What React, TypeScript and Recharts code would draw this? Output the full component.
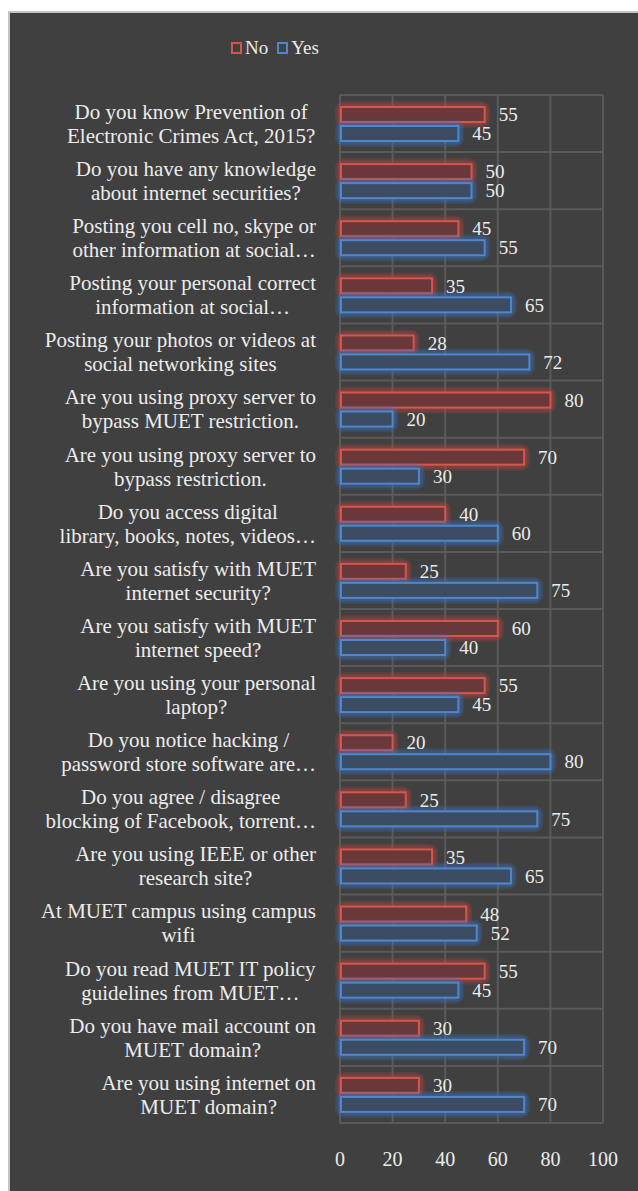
import { BarChart, Bar, XAxis, YAxis, CartesianGrid, Legend, LabelList } from "recharts";

const questions = [
  "Do you know Prevention of\nElectronic Crimes Act, 2015?",
  "Do you have any knowledge\nabout internet securities?",
  "Posting you cell no, skype or\nother information at social…",
  "Posting your personal correct\ninformation at social…",
  "Posting your photos or videos at\nsocial networking sites",
  "Are you using proxy server to\nbypass MUET restriction.",
  "Are you using proxy server to\nbypass restriction.",
  "Do you access digital\nlibrary, books, notes, videos…",
  "Are you satisfy with MUET\ninternet security?",
  "Are you satisfy with MUET\ninternet speed?",
  "Are you using your personal\nlaptop?",
  "Do you notice hacking /\npassword store software are…",
  "Do you agree / disagree\nblocking of Facebook, torrent…",
  "Are you using IEEE or other\nresearch site?",
  "At MUET campus using campus\nwifi",
  "Do you read MUET IT policy\nguidelines from MUET…",
  "Do you have mail account on\nMUET domain?",
  "Are you using internet on\nMUET domain?",
];
const noValues = [55, 50, 45, 35, 28, 80, 70, 40, 25, 60, 55, 20, 25, 35, 48, 55, 30, 30];
const yesValues = [45, 50, 55, 65, 72, 20, 30, 60, 75, 40, 45, 80, 75, 65, 52, 45, 70, 70];
const xTicks = [0, 20, 40, 60, 80, 100];

const data = questions.map((q, i) => ({ q, No: noValues[i], Yes: yesValues[i] }));

const FONT = "Liberation Serif, Times New Roman, serif";
const RED = "#d4564f";
const BLUE = "#4f86cc";
const TEXT = "#ececec";

let ctx: CanvasRenderingContext2D | null = null;
function textWidth(s: string, size: number) {
  if (!ctx) ctx = document.createElement("canvas").getContext("2d");
  if (!ctx) return s.length * size * 0.45;
  ctx.font = `${size}px Liberation Serif`;
  return ctx.measureText(s).width;
}

function QuestionTick(props: any) {
  const { x, y, payload } = props;
  const lines: string[] = String(payload.value).split("\n");
  const size = 21;
  const lh = 24;
  const w = Math.max(...lines.map((l) => textWidth(l, size)));
  const cx = x - w / 2;
  const y0 = y - ((lines.length - 1) * lh) / 2;
  return (
    <text x={cx} y={y0} textAnchor="middle" fill={TEXT} fontSize={size} fontFamily={FONT}>
      {lines.map((l, i) => (
        <tspan key={i} x={cx} y={y0 + i * lh} dy="0.35em">
          {l}
        </tspan>
      ))}
    </text>
  );
}

function LegendBox() {
  const items = [
    { name: "No", color: RED },
    { name: "Yes", color: BLUE },
  ];
  return (
    <div style={{ display: "flex", alignItems: "center", paddingLeft: 221, height: 22, fontFamily: FONT, fontSize: 19, color: TEXT }}>
      {items.map((it) => (
        <div key={it.name} style={{ display: "flex", alignItems: "center", marginRight: 9 }}>
          <svg width={12} height={12} style={{ marginRight: 2 }}>
            <rect x={1} y={1} width={9} height={10} fill="none" stroke={it.color} strokeWidth={2} />
          </svg>
          <span>{it.name}</span>
        </div>
      ))}
    </div>
  );
}

// soft glow made of stacked translucent strokes
const glowSteps = [12, 9, 6];

function glowBar(fill: string, stroke: string, glow: string) {
  return (p: any) => {
    const x = p.x + 1;
    const w = Math.max(p.width - 1, 0);
    return (
      <g>
        {glowSteps.map((sw) => (
          <rect key={sw} x={x} y={p.y} width={w} height={p.height} rx={3} fill="none" stroke={glow} strokeOpacity={0.2} strokeWidth={sw} strokeLinejoin="round" />
        ))}
        <rect x={x} y={p.y} width={w} height={p.height} fill={fill} stroke={stroke} strokeWidth={2} />
      </g>
    );
  };
}

export default function App() {
  return (
    <div
      style={{
        position: "absolute",
        left: 8,
        top: 11,
        width: 630,
        height: 1180,
        background: "#404040",
        borderLeft: "2px solid #c4c4c4",
        borderTop: "2px solid #c4c4c4",
      }}
    >
      <BarChart
        width={628}
        height={1178}
        data={data}
        layout="vertical"
        margin={{ top: 82, right: 35, bottom: 28, left: 0 }}
        barCategoryGap="20%"
        barGap={4}
        barSize={15}
        style={{ fontFamily: FONT }}
      >
        <CartesianGrid
          stroke="#5a5a5a"
          strokeWidth={2}
          horizontalCoordinatesGenerator={({ offset }: any) =>
            questions.map((_, i) => offset.top + (offset.height * i) / questions.length).concat(offset.top + offset.height)
          }
        />
        <XAxis
          type="number"
          domain={[0, 100]}
          ticks={xTicks}
          axisLine={false}
          tickLine={false}
          tickMargin={23}
          height={40}
          tick={{ fill: TEXT, fontSize: 20, fontFamily: FONT }}
        />
        <YAxis
          type="category"
          dataKey="q"
          width={330}
          axisLine={false}
          tickLine={false}
          tickSize={0}
          tickMargin={24}
          interval={0}
          tick={<QuestionTick />}
        />
        <Legend
          layout="horizontal"
          verticalAlign="middle"
          align="center"
          wrapperStyle={{ top: 24, left: 0, width: 628 }}
          content={() => <LegendBox />}
        />
        <Bar dataKey="No" fill="#6a3838" stroke={RED} shape={glowBar("#6a3838", RED, "#b8443f")} isAnimationActive={false}>
          <LabelList dataKey="No" position="right" offset={14} fill={TEXT} fontSize={19} fontFamily={FONT} />
        </Bar>
        <Bar dataKey="Yes" fill="#3c4c62" stroke={BLUE} shape={glowBar("#3c4c62", BLUE, "#3b72c0")} isAnimationActive={false}>
          <LabelList dataKey="Yes" position="right" offset={14} fill={TEXT} fontSize={19} fontFamily={FONT} />
        </Bar>
      </BarChart>
    </div>
  );
}
